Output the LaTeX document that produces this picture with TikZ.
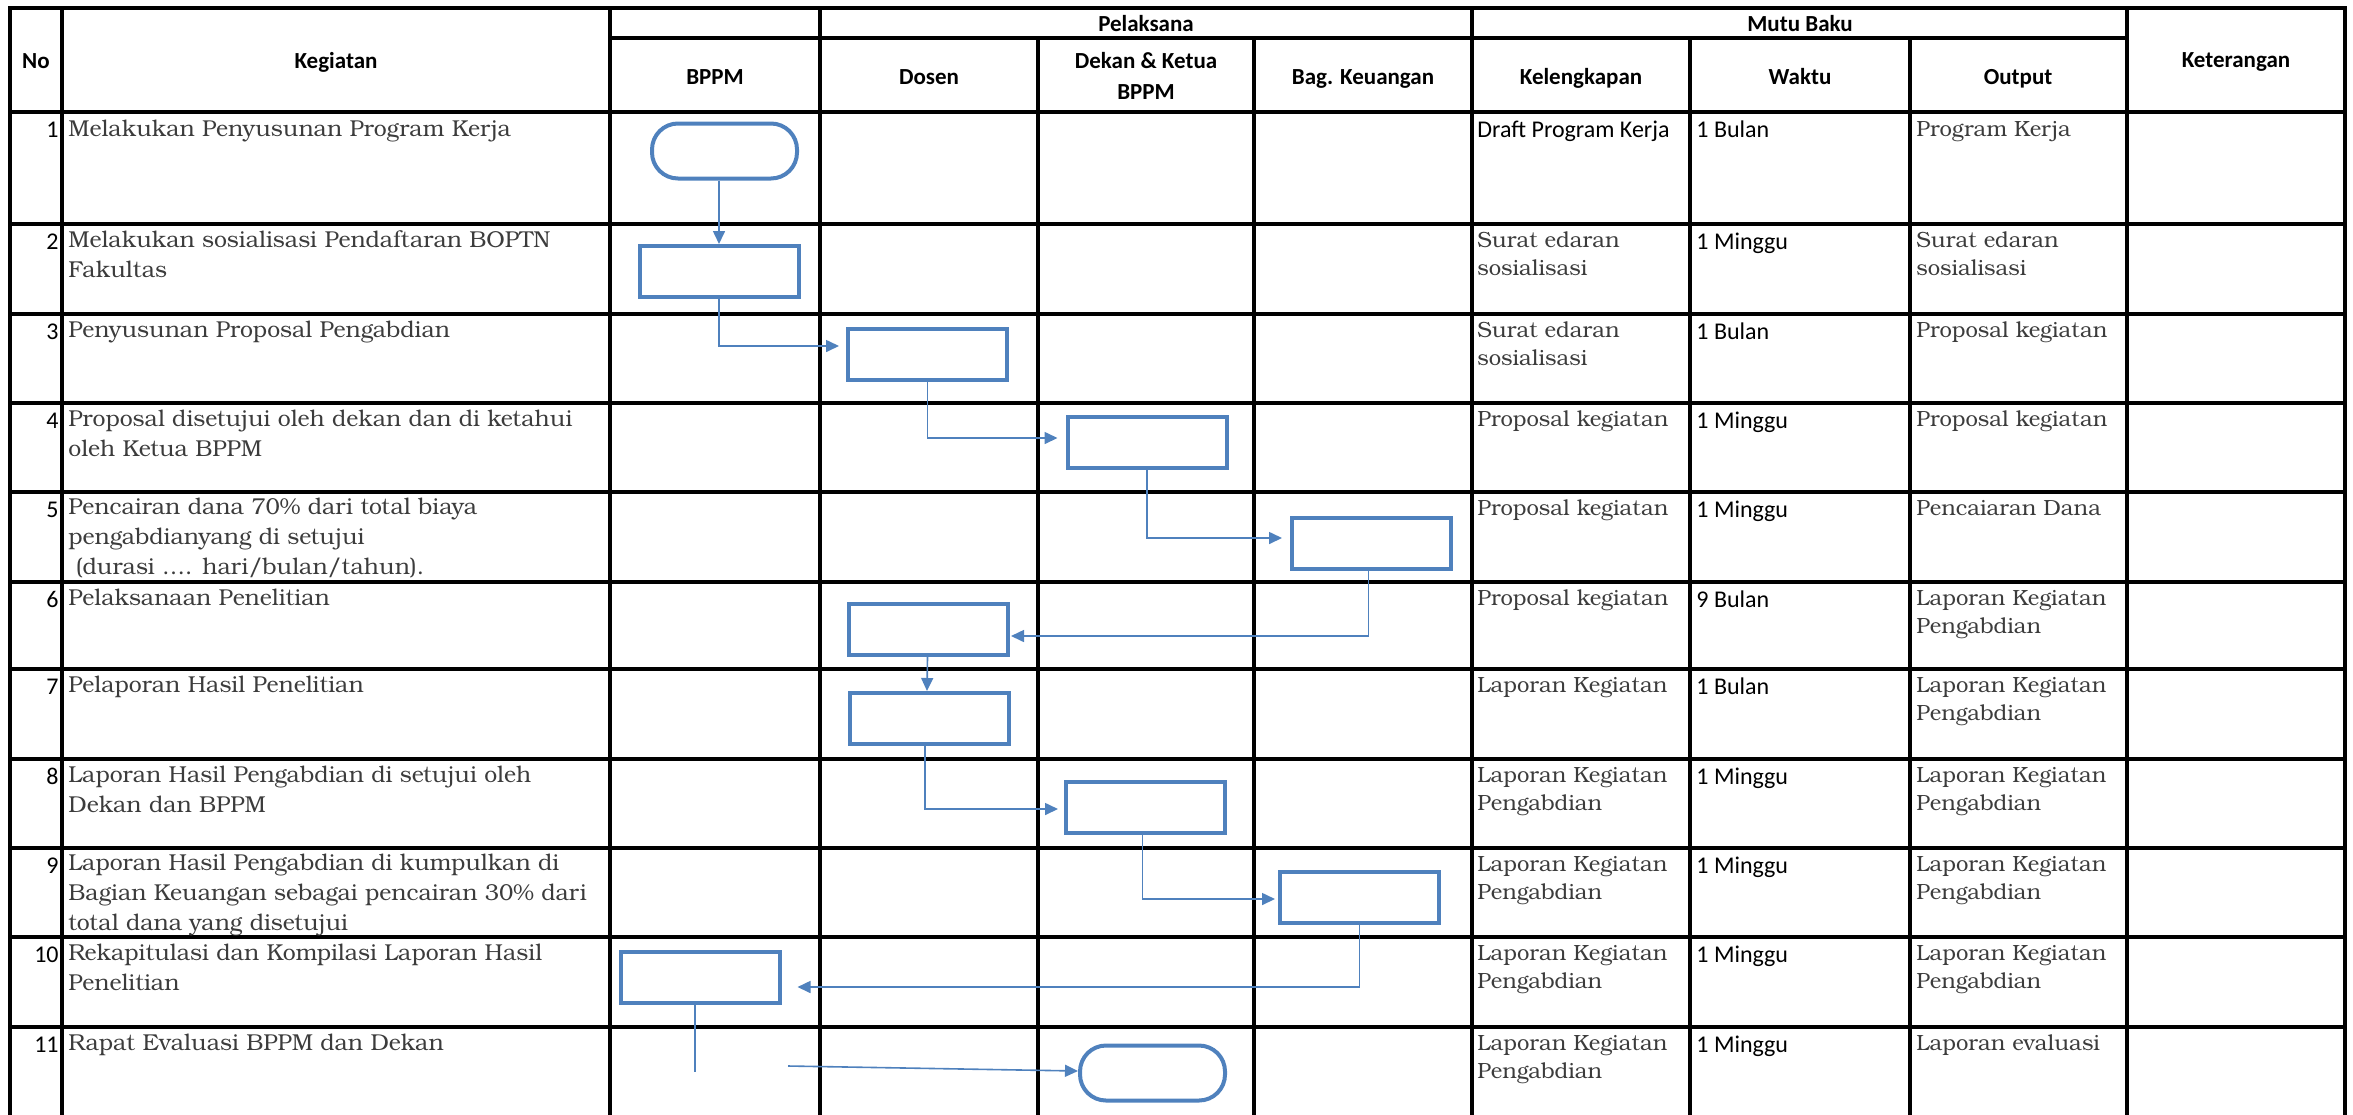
\documentclass[tikz,border=0pt]{standalone}
\usepackage{fontspec}
\setmainfont{Carlito}
\newfontfamily\calfont{Carlito}
\newfontfamily\bkfont{texgyrebonum-regular.otf}
\usetikzlibrary{arrows.meta,calc}
\definecolor{flowblue}{RGB}{79,129,189}
\definecolor{txtgray}{RGB}{60,60,60}
\tikzset{
  gridline/.style={line width=2pt, line cap=rect, black},
  hdr/.style={font=\calfont\bfseries\fontsize{11.5}{15.5}\selectfont, inner sep=0pt, anchor=base, align=center},
  num/.style={font=\calfont\fontsize{12}{14}\selectfont, inner sep=0pt, anchor=base east},
  cal/.style={font=\calfont\fontsize{12}{14}\selectfont, inner sep=0pt, anchor=base west},
  keg/.style={font=\bkfont\fontsize{11.5}{15}\selectfont, text=txtgray, inner sep=0pt, anchor=base west, align=left},
  mutu/.style={font=\bkfont\fontsize{11}{14}\selectfont, text=txtgray, inner sep=0pt, anchor=base west, align=left},
  procbox/.style={draw=flowblue, line width=2pt, minimum width=79.5pt, minimum height=25.5pt, inner sep=0pt},
  termbox/.style={draw=flowblue, line width=2pt, rounded corners=13pt, minimum width=72.5pt, minimum height=27.5pt, inner sep=0pt},
  conn/.style={draw=flowblue, line width=0.8pt},
  arr/.style={conn, -{Triangle[length=6.5pt,width=6pt]}}
}
\begin{document}
\begin{tikzpicture}[x=0.5pt,y=-0.5pt]
\useasboundingbox (0,0) rectangle (2353,1114);
% ---------- grid ----------
\foreach \yy in {8,112,224,314,403,492,582,669,759,848,937,1027}
  \draw[gridline] (10,\yy) -- (2345,\yy);
\draw[gridline] (610,38) -- (2127,38);
\foreach \xx in {10,62,610,820,1472,2127,2345}
  \draw[gridline] (\xx,8) -- (\xx,1120);
\foreach \xx in {1038,1254,1690,1910}
  \draw[gridline] (\xx,38) -- (\xx,1120);
% ---------- header ----------
\node[hdr] (hNo) at (36,68) {No};
\node[hdr] (hKeg) at (336,68) {Kegiatan};
\node[hdr] (hPel) at (1146,31) {Pelaksana};
\node[hdr] (hMutu) at (1800,31) {Mutu Baku};
\node[hdr] (hKet) at (2236,67) {Keterangan};
\node[hdr] (hBPPM) at (715,84) {BPPM};
\node[hdr] (hDosen) at (929,84) {Dosen};
\node[hdr] (hDekan) at (1146,99) {Dekan \& Ketua\\BPPM};
\node[hdr] (hBag) at (1363,84) {Bag. Keuangan};
\node[hdr] (hKel) at (1581,84) {Kelengkapan};
\node[hdr] (hWaktu) at (1800,84) {Waktu};
\node[hdr] (hOut) at (2018,84) {Output};
% ---------- row numbers ----------
\foreach \n/\t in {1/112,2/224,3/314,4/403,5/492,6/582,7/669,8/759,9/848,10/937,11/1027}
  \node[num] (n\n) at (59,\t+25) {\n};
% ---------- kegiatan (base anchor = last line) ----------
\node[keg] (k1) at (68,136) {Melakukan Penyusunan Program Kerja};
\node[keg] (k2) at (68,277) {Melakukan sosialisasi Pendaftaran BOPTN\\Fakultas};
\node[keg] (k3) at (68,337) {Penyusunan Proposal Pengabdian};
\node[keg] (k4) at (68,456) {Proposal disetujui oleh dekan dan di ketahui\\oleh Ketua BPPM};
\node[keg] (k5) at (68,574) {Pencairan dana 70\% dari total biaya\\pengabdianyang di setujui\\\ (durasi …. hari/bulan/tahun).};
\node[keg] (k6) at (68,605) {Pelaksanaan Penelitian};
\node[keg] (k7) at (68,692) {Pelaporan Hasil Penelitian};
\node[keg] (k8) at (68,812) {Laporan Hasil Pengabdian di setujui oleh\\Dekan dan BPPM};
\node[keg] (k9) at (68,930) {Laporan Hasil Pengabdian di kumpulkan di\\Bagian Keuangan sebagai pencairan 30\% dari\\total dana yang disetujui};
\node[keg] (k10) at (68,990) {Rekapitulasi dan Kompilasi Laporan Hasil\\Penelitian};
\node[keg] (k11) at (68,1050) {Rapat Evaluasi BPPM dan Dekan};
% ---------- kelengkapan ----------
\node[cal] (l1) at (1477,137) {Draft Program Kerja};
\node[mutu] (l2) at (1477,275) {Surat edaran\\sosialisasi};
\node[mutu] (l3) at (1477,365) {Surat edaran\\sosialisasi};
\node[mutu] (l4) at (1477,426) {Proposal kegiatan};
\node[mutu] (l5) at (1477,515) {Proposal kegiatan};
\node[mutu] (l6) at (1477,605) {Proposal kegiatan};
\node[mutu] (l7) at (1477,692) {Laporan Kegiatan};
\node[mutu] (l8) at (1477,810) {Laporan Kegiatan\\Pengabdian};
\node[mutu] (l9) at (1477,899) {Laporan Kegiatan\\Pengabdian};
\node[mutu] (l10) at (1477,988) {Laporan Kegiatan\\Pengabdian};
\node[mutu] (l11) at (1477,1078) {Laporan Kegiatan\\Pengabdian};
% ---------- waktu ----------
\foreach \i/\t/\w in {1/112/1 Bulan,2/224/1 Minggu,3/314/1 Bulan,4/403/1 Minggu,5/492/1 Minggu,6/582/9 Bulan,7/669/1 Bulan,8/759/1 Minggu,9/848/1 Minggu,10/937/1 Minggu,11/1027/1 Minggu}
  \node[cal] (w\i) at (1696,\t+25) {\w};
% ---------- output ----------
\node[mutu] (o1) at (1916,136) {Program Kerja};
\node[mutu] (o2) at (1916,275) {Surat edaran\\sosialisasi};
\node[mutu] (o3) at (1916,337) {Proposal kegiatan};
\node[mutu] (o4) at (1916,426) {Proposal kegiatan};
\node[mutu] (o5) at (1916,515) {Pencaiaran Dana};
\node[mutu] (o6) at (1916,633) {Laporan Kegiatan\\Pengabdian};
\node[mutu] (o7) at (1916,720) {Laporan Kegiatan\\Pengabdian};
\node[mutu] (o8) at (1916,810) {Laporan Kegiatan\\Pengabdian};
\node[mutu] (o9) at (1916,899) {Laporan Kegiatan\\Pengabdian};
\node[mutu] (o10) at (1916,988) {Laporan Kegiatan\\Pengabdian};
\node[mutu] (o11) at (1916,1050) {Laporan evaluasi};
% ---------- flow shapes ----------
\node[termbox] (b1) at (724.5,151) {};
\node[procbox] (b2) at (719,271.5) {};
\node[procbox] (b3) at (927.5,354) {};
\node[procbox] (b4) at (1147,442) {};
\node[procbox] (b5) at (1371.5,543.5) {};
\node[procbox] (b6) at (928.5,629) {};
\node[procbox] (b7) at (929,718.5) {};
\node[procbox] (b8) at (1145.5,807.5) {};
\node[procbox] (b9) at (1359.5,897.5) {};
\node[procbox] (b10) at (700,977.5) {};
\node[termbox] (b11) at (1152.5,1073) {};
% ---------- connectors ----------
\draw[arr] (b2.north |- b1.south) -- (b2.north);
\draw[arr, shorten >=3.5pt] (b2.south) |- ($(b3.west)+(0,-8)$);
\draw[arr, shorten >=4pt] (b3.south) |- ($(b4.west)+(0,-4)$);
\draw[arr, shorten >=4pt] (b4.south) |- ($(b5.west)+(0,-5.5)$);
\draw[arr, shorten >=0.5pt] ($(b5.south)+(-3,0)$) |- ($(b6.east)+(0,7)$);
\draw[arr] ($(b6.south)+(-1,0)$) -- ($(b7.north)+(-2,0)$);
\draw[arr, shorten >=3pt] ($(b7.south)+(-4,0)$) |- ($(b8.west)+(0,1.5)$);
\draw[arr, shorten >=1.5pt] ($(b8.south)+(-3,0)$) |- ($(b9.west)+(0,1.5)$);
\draw[arr, shorten >=8pt] (b9.south) |- ($(b10.east)+(0,9.5)$);
\coordinate (stubend) at (695,1072);
\draw[conn] (b10.south -| stubend) -- (stubend);
\coordinate (evstart) at (788,1066);
\draw[arr] (evstart) -- ($(b11.west)+(0,-2)$);
\end{tikzpicture}
\end{document}
